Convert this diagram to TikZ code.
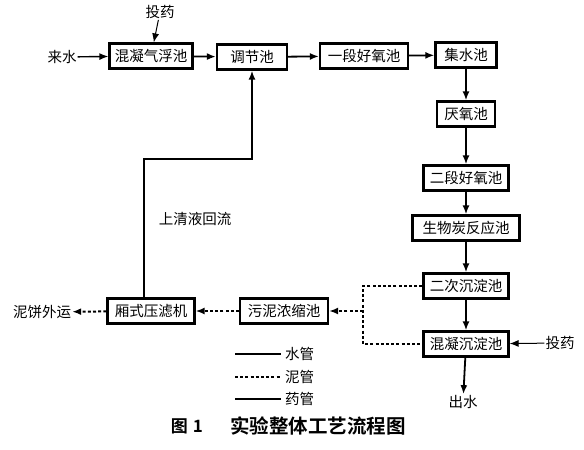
\documentclass[tikz,border=0pt]{standalone}
\usepackage{fontspec}
\setmainfont{Noto Sans CJK SC}
\newfontfamily\capfont{Noto Sans CJK SC Bold}
\usetikzlibrary{arrows.meta, positioning}

\begin{document}
\begin{tikzpicture}[
    x=1pt, y=-1pt,
    font=\fontsize{14.5}{16}\selectfont,
    pool/.style={
        draw=black, line width=2.2pt, fill=white,
        minimum height=25pt, inner sep=2pt, align=center
    },
    tip/.style={-{Latex[length=9pt,width=7pt]}},
    water/.style={draw=black, line width=1.8pt, tip},
    sludge/.style={draw=black, line width=2pt, dash pattern=on 3pt off 2.2pt},
    drug/.style={draw=black, line width=1pt, tip},
    lbl/.style={inner sep=1pt}
]

% ---- Page frame (keeps the reference margins) ----
\useasboundingbox (0,0) rectangle (584,450);

% ---- Top row ----
\node[lbl] (inflow) at (62,57) {来水};
\node[pool, minimum width=83pt] (hnqf) at (151,56) {混凝气浮池};
\node[lbl] (dose1) at (160,12) {投药};
\node[pool, minimum width=70pt] (tjc) at (252,57) {调节池};
\node[pool, minimum width=88pt] (aero1) at (364,56) {一段好氧池};
\node[pool, minimum width=61pt] (jsc) at (466,55) {集水池};

% ---- Right column ----
\node[pool, minimum width=58pt]  (anae)  at (466,114) {厌氧池};
\node[pool, minimum width=85pt]  (aero2) at (466,178) {二段好氧池};
\node[pool, minimum width=107pt] (bioc)  at (466,228) {生物炭反应池};
\node[pool, minimum width=85pt]  (sed2)  at (466,286) {二次沉淀池};
\node[pool, minimum width=85pt]  (csed)  at (466,344) {混凝沉淀池};
\node[lbl] (outflow) at (463,402) {出水};
\node[lbl] (dose2) at (560,343) {投药};

% ---- Sludge line ----
\node[pool, minimum width=88pt] (thick) at (284,311) {污泥浓缩池};
\node[pool, minimum width=87pt] (press) at (151,311) {厢式压滤机};
\node[lbl] (cake) at (42,312) {泥饼外运};
\node[lbl] (reflux) at (195,219) {上清液回流};

% ---- Water pipes ----
\draw[water, line width=1.4pt] (inflow) -- (hnqf);
\draw[water] (hnqf) -- (tjc);
\draw[water] (tjc) -- (aero1);
\draw[water] (aero1) -- (jsc);
\draw[water] (jsc) -- (anae);
\draw[water] (anae) -- (aero2);
\draw[water] (aero2) -- (bioc);
\draw[water] (bioc) -- (sed2);
\draw[water] (sed2) -- (csed);
\draw[water] (csed) -- (outflow);

% ---- Supernatant back to the equalisation tank ----
\coordinate (turn) at (252,159);
\draw[water] ([xshift=-7pt]press.north) |- (turn) -- (tjc.south);

% ---- Dosing pipes ----
\draw[drug] (dose1) -- (hnqf);
\draw[drug] (dose2) -- (csed);

% ---- Sludge pipes ----
\coordinate (sj) at (363,311);
\draw[sludge] (sed2.west) -| (sj) |- (csed.west);
\draw[sludge, tip] (sj) -- (thick);
\draw[sludge, tip] (thick) -- (press);
\draw[sludge, tip] (press) -- (cake);

% ---- Legend ----
\coordinate (la) at (235,354);
\coordinate (lb) at (235,377);
\coordinate (lc) at (235,399);
\node[lbl, anchor=west] (kw) at (284,354) {水管};
\node[lbl, anchor=west] (ks) at (284,377) {泥管};
\node[lbl, anchor=west] (kd) at (284,399) {药管};
\draw[draw=black, line width=2.2pt] (la) -- ([xshift=-3pt]kw.west);
\draw[sludge] (lb) -- ([xshift=-3pt]ks.west);
\draw[draw=black, line width=1.4pt] (lc) -- ([xshift=-3pt]kd.west);

% ---- Caption ----
\node[lbl, font=\capfont\fontsize{17}{19}\selectfont] (fig) at (187,426) {图\hspace{5pt}1};
\node[lbl, font=\capfont\fontsize{19.5}{21}\selectfont] (title) at (318,426) {实验整体工艺流程图};

\end{tikzpicture}
\end{document}
